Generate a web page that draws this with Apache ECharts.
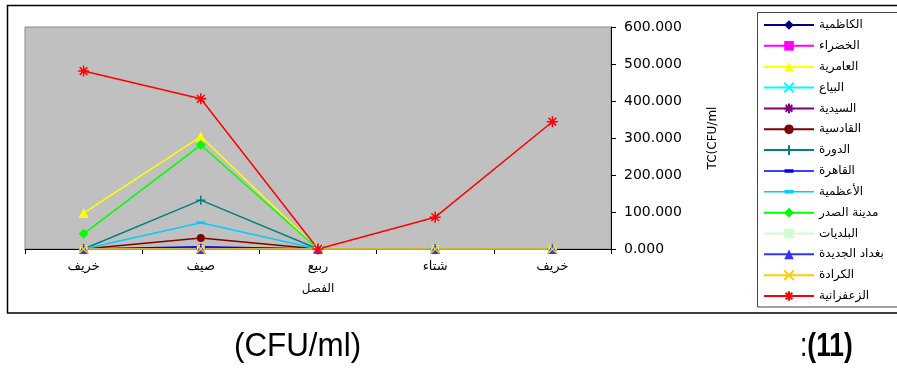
<!DOCTYPE html>
<html>
<head>
<meta charset="utf-8">
<script src="https://cdn.jsdelivr.net/npm/echarts@6/dist/echarts.min.js"></script>
<style>
  html, body { margin: 0; padding: 0; background: #fff; }
  #chart { width: 897px; height: 369px; }
</style>
</head>
<body>
<div id="chart"></div>
<script>
// Seasons along the category axis
const seasons = ['خريف', 'صيف', 'ربيع', 'شتاء', 'خريف'];

// Y axis ticks
const yMin = 0, yMax = 600, yStep = 100;

// Total count per site, CFU/ml
const kadhimiya     = [0, 3, 0, 0, 0];
const khadhraa      = [0, 2, 0, 0, 0];
const amiriya       = [97, 304, 0, 0, 0];
const bayaa         = [0, 0, 0, 0, 0];
const saydiya       = [0, 0, 0, 0, 0];
const qadisiya      = [0, 30, 0, 0, 0];
const dora          = [0, 132, 0, 0, 0];
const qahira        = [0, 6, 0, 0, 0];
const adhamiya      = [0, 71, 0, 0, 0];
const sadr          = [41, 281, 0, 0, 0];
const baladiyat     = [0, 0, 0, 0, 0];
const baghdadJadida = [0, 0, 0, 0, 0];
const karrada       = [0, 0, 0, 0, 0];
const zaafaraniya   = [481, 406, 0, 86, 344];

const X_MARK = 'path://M0,0L10,10M0,10L10,0';
const STAR_MARK = 'path://M5,0L5,10M0,5L10,5M1.5,1.5L8.5,8.5M1.5,8.5L8.5,1.5';
const PLUS_MARK = 'path://M5,0L5,10M0,5L10,5';
const DASH_MARK = 'path://M0,0L10,0L10,3L0,3Z';
// legend sample for the dash-marked series: thin line with a short bar in the middle
const DASH_LEGEND = 'path://M0,5.25L50,5.25L50,6.75L0,6.75Z M20.5,4.3L29.5,4.3L29.5,7.7L20.5,7.7Z';

const sites = [
  { name: 'الكاظمية',      data: kadhimiya,     color: '#000080', symbol: 'diamond',  size: 9 },
  { name: 'الخضراء',       data: khadhraa,      color: '#FF00FF', symbol: 'rect',     size: 7 },
  { name: 'العامرية',      data: amiriya,       color: '#FFFF00', symbol: 'triangle', size: 10 },
  { name: 'البياع',        data: bayaa,         color: '#00FFFF', symbol: X_MARK,     size: 8, stroke: true },
  { name: 'السيدية',       data: saydiya,       color: '#800080', symbol: STAR_MARK,  size: 9, stroke: true },
  { name: 'القادسية',      data: qadisiya,      color: '#800000', symbol: 'circle',   size: 8 },
  { name: 'الدورة',        data: dora,          color: '#008080', symbol: PLUS_MARK,  size: 9, stroke: true },
  { name: 'القاهرة',       data: qahira,        color: '#0000FF', symbol: DASH_MARK,  size: 9, keep: true },
  { name: 'الأعظمية',      data: adhamiya,      color: '#00CCFF', symbol: DASH_MARK,  size: 9, keep: true },
  { name: 'مدينة الصدر',   data: sadr,          color: '#00FF00', symbol: 'diamond',  size: 10 },
  { name: 'البلديات',      data: baladiyat,     color: '#CCFFCC', symbol: 'rect',     size: 8 },
  { name: 'بغداد الجديدة', data: baghdadJadida, color: '#3333FF', symbol: 'triangle', size: 10 },
  { name: 'الكرادة',       data: karrada,       color: '#FFCC00', symbol: X_MARK,     size: 9, stroke: true },
  { name: 'الزعفرانية',    data: zaafaraniya,   color: '#FF0000', symbol: STAR_MARK,  size: 11, stroke: true }
];

const arabicFont = '"DejaVu Sans", sans-serif';
const captionFont = '"Liberation Sans", Arial, sans-serif';

const series = sites.map(s => ({
  name: s.name,
  type: 'line',
  data: s.data,
  symbol: s.symbol,
  symbolSize: s.size,
  symbolKeepAspect: !!s.keep,
  showAllSymbol: true,
  lineStyle: { color: s.color, width: 1.5 },
  itemStyle: s.stroke
    ? { color: s.color, borderColor: s.color, borderWidth: 1.5 }
    : { color: s.color, borderWidth: 0 },
  emphasis: { disabled: true },
  silent: true
}));

const legendData = sites.map(s => s.keep
  ? { name: s.name, icon: DASH_LEGEND, itemStyle: { color: s.color, borderWidth: 0 } }
  : { name: s.name });

const chart = echarts.init(document.getElementById('chart'), null, { renderer: 'canvas' });

chart.setOption({
  animation: false,
  backgroundColor: '#ffffff',
  grid: {
    left: 25, right: 286, top: 27, bottom: 120,
    show: true, backgroundColor: '#C0C0C0', borderColor: '#8c8c8c', borderWidth: 1
  },
  legend: {
    orient: 'vertical',
    left: 763, top: 19,
    padding: 0,
    itemWidth: 50, itemHeight: 12, itemGap: 8.85,
    symbolKeepAspect: true,
    selectedMode: false,
    textStyle: { fontFamily: arabicFont, fontSize: 12, color: '#000' },
    data: legendData
  },
  xAxis: {
    type: 'category',
    data: seasons,
    boundaryGap: true,
    name: 'الفصل',
    nameLocation: 'middle',
    nameGap: 34,
    nameTextStyle: { fontFamily: arabicFont, fontSize: 12, color: '#000' },
    axisLine: { onZero: false, lineStyle: { color: '#000', width: 1 } },
    axisTick: { show: true, length: 5, lineStyle: { color: '#000' } },
    axisLabel: { fontFamily: arabicFont, fontSize: 13, color: '#000', margin: 11 },
    splitLine: { show: false }
  },
  yAxis: {
    type: 'value',
    position: 'right',
    min: yMin, max: yMax, interval: yStep,
    name: 'TC(CFU/ml',
    nameLocation: 'middle',
    nameRotate: 90,
    nameGap: 96,
    nameTextStyle: { fontFamily: '"DejaVu Sans", sans-serif', fontSize: 12, color: '#000' },
    axisLine: { show: true, lineStyle: { color: '#000', width: 1 } },
    axisTick: { show: true, length: 5, lineStyle: { color: '#000' } },
    axisLabel: {
      fontFamily: '"DejaVu Sans", sans-serif', fontSize: 14, color: '#000', margin: 13,
      formatter: v => v.toFixed(3)
    },
    splitLine: { show: false }
  },
  graphic: [
    {
      type: 'rect', silent: true, z: 100,
      shape: { x: 7.5, y: 5.5, width: 900, height: 307.5 },
      style: { fill: 'none', stroke: '#000', lineWidth: 1.5 }
    },
    {
      type: 'rect', silent: true, z: 100,
      shape: { x: 757.5, y: 12.5, width: 150, height: 294.5 },
      style: { fill: 'none', stroke: '#444', lineWidth: 1 }
    },
    {
      type: 'text', silent: true, x: 234, y: 330, scaleX: 0.95,
      style: { text: '(CFU/ml)', fill: '#000', font: '33px ' + captionFont }
    },
    {
      type: 'text', silent: true, x: 800, y: 330, scaleX: 0.8,
      style: {
        text: '{a|:}{b|(11)}', fill: '#000',
        rich: {
          a: { font: '33px ' + captionFont, fill: '#000' },
          b: { font: 'bold 33px ' + captionFont, fill: '#000' }
        }
      }
    }
  ],
  series: series
});
</script>
</body>
</html>
